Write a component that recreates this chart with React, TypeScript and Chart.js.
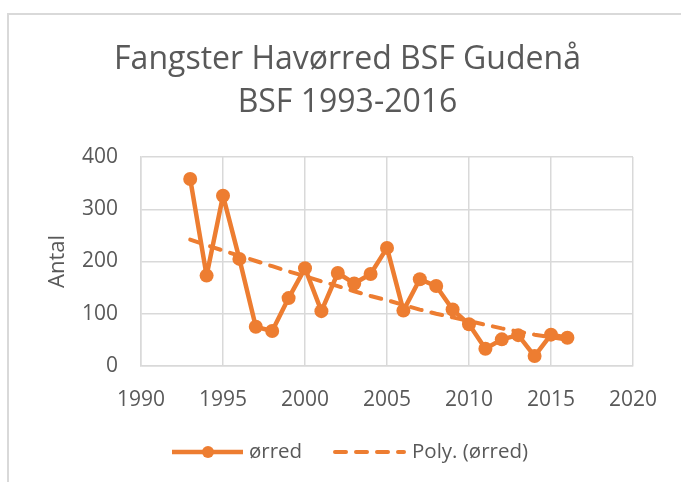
import React, { useEffect, useRef } from "react";
import { Chart, registerables } from "chart.js";

Chart.register(...registerables);

const years = [1993, 1994, 1995, 1996, 1997, 1998, 1999, 2000, 2001, 2002, 2003, 2004, 2005, 2006, 2007, 2008, 2009, 2010, 2011, 2012, 2013, 2014, 2015, 2016];
const catches = [358, 173, 326, 205, 75, 67, 130, 187, 105, 178, 158, 176, 226, 106, 166, 153, 108, 80, 33, 51, 59, 19, 60, 54];
const trendValues = [242, 231, 221, 211, 201, 191, 181, 172, 162, 153, 143, 134, 126, 117, 108, 100, 93, 86, 79, 72, 66, 60, 55, 50];
const xTicks = [1990, 1995, 2000, 2005, 2010, 2015, 2020];
const yTicks = [0, 100, 200, 300, 400];
const titleLines = ["Fangster Havørred BSF Gudenå", "BSF 1993-2016"];
const yAxisTitle = "Antal";
const seriesNames = ["ørred", "Poly. (ørred)"];

const ORANGE = "#ED7D31";
const TEXT = "#595959";
const GRID = "#d9d9d9";
const FONT = "'Open Sans', sans-serif";

const frameAndLegend = {
  id: "frameAndLegend",
  beforeDraw(chart: any) {
    const ctx = chart.ctx;
    ctx.save();
    ctx.strokeStyle = GRID;
    ctx.lineWidth = 2;
    ctx.beginPath();
    ctx.moveTo(8, chart.height);
    ctx.lineTo(8, 14);
    ctx.lineTo(chart.width, 14);
    ctx.stroke();
    ctx.restore();
  },
  afterDraw(chart: any) {
    const ctx = chart.ctx;
    const y = 452;
    ctx.save();
    ctx.strokeStyle = ORANGE;
    ctx.fillStyle = ORANGE;
    ctx.lineWidth = 4.5;
    ctx.lineCap = "butt";
    ctx.beginPath();
    ctx.moveTo(172, y);
    ctx.lineTo(243, y);
    ctx.stroke();
    ctx.beginPath();
    ctx.arc(208, y, 6, 0, Math.PI * 2);
    ctx.fill();

    ctx.lineWidth = 4;
    ctx.lineCap = "round";
    ctx.setLineDash([11, 10]);
    ctx.beginPath();
    ctx.moveTo(335, y);
    ctx.lineTo(404, y);
    ctx.stroke();
    ctx.setLineDash([]);

    ctx.fillStyle = TEXT;
    ctx.font = `20.5px ${FONT}`;
    ctx.textBaseline = "middle";
    ctx.textAlign = "left";
    ctx.fillText(seriesNames[0], 249, y);
    ctx.fillText(seriesNames[1], 412, y);
    ctx.restore();
  },
};

export default function App() {
  const canvasRef = useRef<HTMLCanvasElement | null>(null);

  useEffect(() => {
    if (!canvasRef.current) return;
    const chart = new Chart(canvasRef.current, {
      type: "line",
      data: {
        datasets: [
          {
            label: seriesNames[1],
            data: years.map((x, i) => ({ x, y: trendValues[i] })),
            borderColor: ORANGE,
            borderWidth: 4,
            borderDash: [11, 10],
            borderCapStyle: "round",
            borderJoinStyle: "round",
            pointRadius: 0,
            fill: false,
            tension: 0,
            order: 0,
          },
          {
            label: seriesNames[0],
            data: years.map((x, i) => ({ x, y: catches[i] })),
            borderColor: ORANGE,
            backgroundColor: ORANGE,
            borderWidth: 4.5,
            borderJoinStyle: "round",
            borderCapStyle: "round",
            pointRadius: 7,
            pointBorderWidth: 0,
            pointBackgroundColor: ORANGE,
            fill: false,
            tension: 0,
            order: 1,
          },
        ],
      },
      options: {
        animation: false,
        responsive: false,
        devicePixelRatio: 1,
        layout: { padding: { left: 14, right: 0, top: 0, bottom: 76 } },
        plugins: {
          legend: { display: false },
          tooltip: { enabled: false },
          title: {
            display: true,
            text: titleLines,
            color: TEXT,
            font: { family: FONT, size: 32, weight: "normal", lineHeight: 1.344 },
            padding: { top: 38.5, bottom: 32.5 },
          },
        },
        scales: {
          x: {
            type: "linear",
            min: 1990,
            max: 2020,
            afterBuildTicks: (scale: any) => {
              scale.ticks = xTicks.map((v) => ({ value: v }));
            },
            afterFit: (scale: any) => {
              scale.height = 40;
              scale.paddingRight = 48;
            },
            ticks: {
              color: TEXT,
              font: { family: FONT, size: 21 },
              padding: 21,
              maxRotation: 0,
              autoSkip: false,
              callback: (v: any) => String(v),
            },
            grid: { color: GRID, lineWidth: 1.5, drawTicks: false },
            border: { color: GRID, width: 1.5 },
          },
          y: {
            type: "linear",
            min: 0,
            max: 400,
            afterBuildTicks: (scale: any) => {
              scale.ticks = yTicks.map((v) => ({ value: v }));
            },
            afterFit: (scale: any) => {
              scale.width = 127;
            },
            ticks: {
              color: TEXT,
              font: { family: FONT, size: 21 },
              padding: 23,
              callback: (v: any) => String(v),
            },
            title: {
              display: true,
              text: yAxisTitle,
              color: TEXT,
              font: { family: FONT, size: 22, lineHeight: 1.2 },
              padding: { top: 30.8, bottom: 0 },
            },
            grid: { color: GRID, lineWidth: 1.5, drawTicks: false },
            border: { color: GRID, width: 1.5 },
          },
        },
      },
      plugins: [frameAndLegend],
    } as any);
    return () => chart.destroy();
  }, []);

  return (
    <div style={{ position: "fixed", left: 0, top: 0, width: 681, height: 482, background: "#fff" }}>
      <canvas ref={canvasRef} width={681} height={482} style={{ display: "block" }} />
    </div>
  );
}
